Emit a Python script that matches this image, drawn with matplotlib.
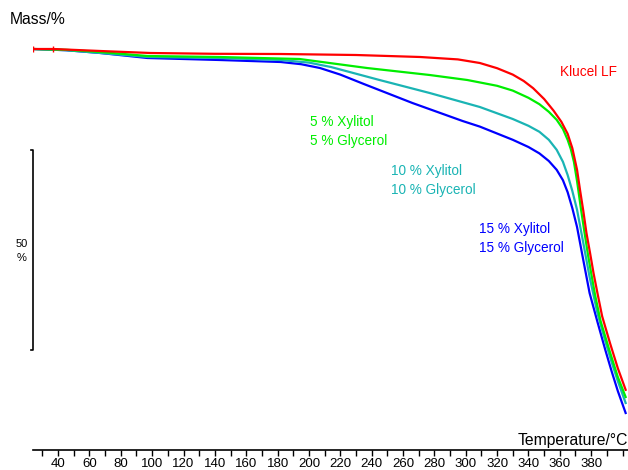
import matplotlib.pyplot as plt

plt.rcParams['font.family'] = ['Liberation Sans', 'DejaVu Sans']

t_klucel = [24, 37, 67, 99, 140, 182, 230, 271, 295, 309, 320, 330, 337, 343, 350, 356, 361, 365,
            368, 371, 373, 375, 377, 379.3, 381.5, 384, 387, 392, 397, 402]
m_klucel = [100, 100, 99.5, 99, 98.8, 98.75, 98.5, 98, 97.4, 96.5, 95.2, 93.6, 92, 90.2, 87.5, 84.6,
            81.8, 78.8, 75.2, 69.8, 64.5, 59.5, 54, 49, 44, 39, 33.2, 26.5, 20.2, 14.8]

t_5 = [24, 45, 67, 97, 143, 194, 237, 277, 301, 320, 330, 340, 347, 353, 358, 362, 365, 367, 369,
       371, 373.5, 376, 378, 380, 382.5, 386, 392, 397, 402]
m_5 = [100, 99.8, 99.25, 98.25, 98, 97.5, 95.25, 93.5, 92.25, 90.8, 89.6, 87.8, 86.2, 84.3, 82.3,
       80, 77.3, 75, 71.8, 67, 60, 53.5, 48.5, 44, 38.5, 32, 24.2, 18, 13]

t_10 = [24, 45, 67, 97, 143, 182, 200, 214, 245, 277, 309, 330, 340, 347, 353, 358, 362, 365,
        368, 371, 375, 379, 384, 389, 393, 397, 402]
m_10 = [100, 99.7, 99, 98, 97.75, 97.25, 96.6, 95.5, 92.25, 89, 85.5, 82.5, 80.8, 79.3, 77.3, 74.8,
        71.8, 68.5, 64.5, 59.8, 51.5, 43, 34, 27, 21.8, 17, 11.5]

t_15 = [24, 45, 67, 97, 143, 182, 195, 207, 220, 235, 266, 298, 309, 330, 340, 347, 353, 358, 362,
        365, 368, 371, 375, 379, 384, 389, 393, 397, 402]
m_15 = [100, 99.7, 99, 97.75, 97.25, 96.75, 96.2, 95.25, 93.6, 91.25, 86.5, 82, 80.6, 77.3, 75.5,
        73.9, 72, 69.8, 67.2, 64.2, 60.2, 55.5, 47.2, 39, 31.8, 24.8, 19.5, 14.5, 9]

series = [
    (t_klucel, m_klucel, '#ff0000', 'Klucel LF', 360, 94.2),
    (t_5, m_5, '#00ee00', '5 % Xylitol\n5 % Glycerol', 200.7, 79.4),
    (t_10, m_10, '#1ab4b4', '10 % Xylitol\n10 % Glycerol', 252.4, 67.2),
    (t_15, m_15, '#0000ff', '15 % Xylitol\n15 % Glycerol', 308.5, 52.7),
]

fig = plt.figure(figsize=(6.28, 4.70), dpi=100)
ax = fig.add_axes([33 / 628, 20 / 470, 595 / 628, 420 / 470])

for t, m, cor, rotulo, tx, ty in reversed(series):
    ax.plot(t, m, color=cor, lw=1.6, solid_joinstyle='round')
    ax.text(tx, ty, rotulo, color=cor, fontsize=9.8, ha='left', va='center', linespacing=1.45)

# pequenos marcadores no início da curva vermelha
ax.plot([24, 37], [100, 100], '|', color='#ff0000', ms=4, mew=1)

ax.set_xlim(24, 403.5)
ax.set_ylim(-0.25, 104.75)

for lado in ['left', 'right', 'top']:
    ax.spines[lado].set_visible(False)
ax.spines['bottom'].set_linewidth(1.2)
ax.set_yticks([])
ax.set_xticks(range(40, 400, 20))
ax.set_xticks(range(30, 410, 10), minor=True)
ax.tick_params(axis='x', which='both', direction='out', length=4, width=1, labelsize=9.5, pad=1.5)

# barra de escala de 50 %
ax.plot([22.5, 24, 24, 22.5], [74.75, 74.75, 24.75, 24.75], color='black', lw=1.2, clip_on=False)
ax.text(16.5, 49.5, '50\n%', fontsize=8, ha='center', va='center', linespacing=1.4)

fig.text(10 / 628, 1 - 20 / 470, 'Mass/%', fontsize=11.3, ha='left', va='center')
fig.text(628 / 628, 1 - 440 / 470, 'Temperature/°C', fontsize=11.3, ha='right', va='center')

fig.savefig('out.png', dpi=100)
